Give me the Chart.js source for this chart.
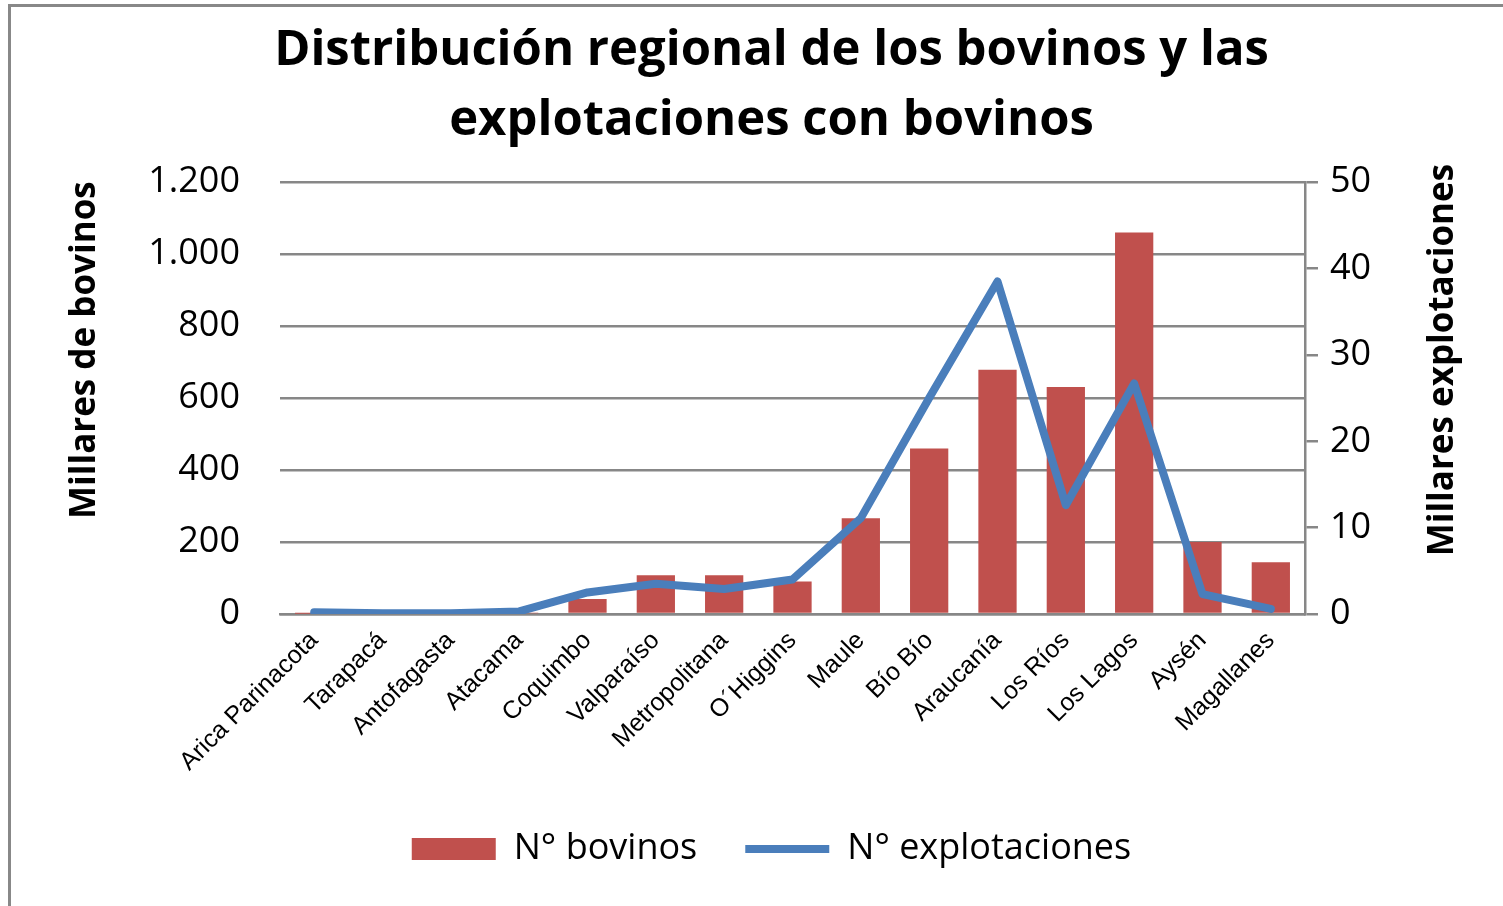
<!DOCTYPE html>
<html lang="es">
<head>
<meta charset="utf-8">
<title>Distribución regional de los bovinos</title>
<script src="https://cdn.jsdelivr.net/npm/chart.js@4.4.0/dist/chart.umd.min.js"></script>
<style>
  html, body { margin: 0; padding: 0; background: #fff; }
  canvas { display: block; }
</style>
</head>
<body>
<canvas id="chart" width="1503" height="906"></canvas>
<script>
// data
const regiones = [
  'Arica Parinacota', 'Tarapacá', 'Antofagasta', 'Atacama', 'Coquimbo',
  'Valparaíso', 'Metropolitana', 'O´Higgins', 'Maule', 'Bío Bío',
  'Araucanía', 'Los Ríos', 'Los Lagos', 'Aysén', 'Magallanes'
];
// miles de bovinos (eje izquierdo)
const bovinos = [1, 0, 0, 2, 42, 108, 108, 90, 266, 460, 679, 631, 1060, 200, 144];
// miles de explotaciones (eje derecho)
const explotaciones = [0.2, 0.1, 0.1, 0.3, 2.5, 3.5, 2.9, 4.0, 11.1, 25.0, 38.5, 12.6, 26.7, 2.3, 0.6];

const leftTickLabels = ['0', '200', '400', '600', '800', '1.000', '1.200'];
const rightTickLabels = ['0', '10', '20', '30', '40', '50'];

const titleLines = ['Distribución regional de los bovinos y las', 'explotaciones con bovinos'];
const leftAxisTitle = 'Millares de bovinos';
const rightAxisTitle = 'Millares explotaciones';

const GRID = '#878787';
const BAR = '#C0504D';
const LINE = '#4A7EBB';

// frame around the chart + the two vertical axis titles (both read bottom to top)
const frameAndTitles = {
  id: 'frameAndTitles',
  beforeDraw(chart) {
    const ctx = chart.ctx;
    ctx.save();
    ctx.fillStyle = '#fff';
    ctx.fillRect(0, 0, chart.width, chart.height);
    ctx.strokeStyle = '#888';
    ctx.lineWidth = 3;
    ctx.strokeRect(9.5, 5.5, chart.width + 20, chart.height + 20);
    ctx.restore();
  },
  afterDraw(chart) {
    const ctx = chart.ctx;
    const area = chart.chartArea;
    const mid = (area.top + area.bottom) / 2;
    ctx.save();
    ctx.fillStyle = '#000';
    ctx.font = 'bold 35px "Open Sans"';
    ctx.textAlign = 'center';
    ctx.textBaseline = 'middle';

    ctx.translate(area.left - 195, mid - 48);
    ctx.rotate(-Math.PI / 2);
    ctx.fillText(leftAxisTitle, 0, 0);
    ctx.restore();

    ctx.save();
    ctx.fillStyle = '#000';
    ctx.font = 'bold 35px "Open Sans"';
    ctx.textAlign = 'center';
    ctx.textBaseline = 'middle';
    ctx.translate(area.right + 138, mid - 38);
    ctx.rotate(-Math.PI / 2);
    ctx.fillText(rightAxisTitle, 0, 0);
    ctx.restore();
  }
};

new Chart(document.getElementById('chart'), {
  type: 'bar',
  data: {
    labels: regiones,
    datasets: [
      {
        type: 'line',
        label: 'N° explotaciones',
        data: explotaciones,
        yAxisID: 'y1',
        borderColor: LINE,
        backgroundColor: LINE,
        borderWidth: 8,
        borderCapStyle: 'round',
        borderJoinStyle: 'round',
        pointRadius: 0,
        pointHoverRadius: 0,
        pointStyle: 'line',
        tension: 0,
        order: 0
      },
      {
        label: 'N° bovinos',
        data: bovinos,
        yAxisID: 'y',
        backgroundColor: BAR,
        borderWidth: 0,
        barPercentage: 0.56,
        categoryPercentage: 1,
        pointStyle: 'rect',
        order: 1
      }
    ]
  },
  options: {
    responsive: false,
    animation: false,
    layout: { padding: { left: 40, right: 0, top: 0, bottom: 29 } },
    plugins: {
      title: {
        display: true,
        text: titleLines,
        color: '#000',
        font: { family: '"Open Sans"', size: 49, weight: 'bold', lineHeight: 1.43 },
        padding: { top: 16, bottom: 26 }
      },
      legend: {
        position: 'bottom',
        reverse: true,
        labels: {
          usePointStyle: true,
          pointStyleWidth: 84,
          boxHeight: 22,
          padding: 48,
          color: '#000',
          font: { family: '"Open Sans"', size: 36 }
        }
      },
      tooltip: { enabled: false }
    },
    scales: {
      x: {
        offset: true,
        grid: { display: false },
        border: { display: true, color: GRID, width: 2.5 },
        ticks: {
          autoSkip: false,
          maxRotation: 45,
          minRotation: 45,
          padding: 4,
          color: '#000',
          font: { family: '"Liberation Sans"', size: 25 }
        },
        afterFit: (scale) => { scale.height = 169; }
      },
      y: {
        position: 'left',
        min: 0,
        max: 1200,
        grid: { color: GRID, lineWidth: 2.5, drawTicks: false },
        border: { display: false },
        ticks: {
          stepSize: 200,
          padding: 40,
          color: '#000',
          font: { family: '"Open Sans"', size: 36 },
          callback: (value, index) => leftTickLabels[index]
        },
        afterFit: (scale) => { scale.width = 240; }
      },
      y1: {
        position: 'right',
        min: 0,
        max: 50,
        grid: {
          drawOnChartArea: false,
          drawTicks: true,
          tickLength: 13,
          tickColor: GRID,
          tickWidth: 2.5,
          color: GRID,
          lineWidth: 2.5
        },
        border: { display: true, color: GRID, width: 2.5 },
        ticks: {
          stepSize: 10,
          padding: 12,
          color: '#000',
          font: { family: '"Open Sans"', size: 36 },
          callback: (value, index) => rightTickLabels[index]
        },
        afterFit: (scale) => { scale.width = 198; }
      }
    }
  },
  plugins: [frameAndTitles]
});
</script>
</body>
</html>
